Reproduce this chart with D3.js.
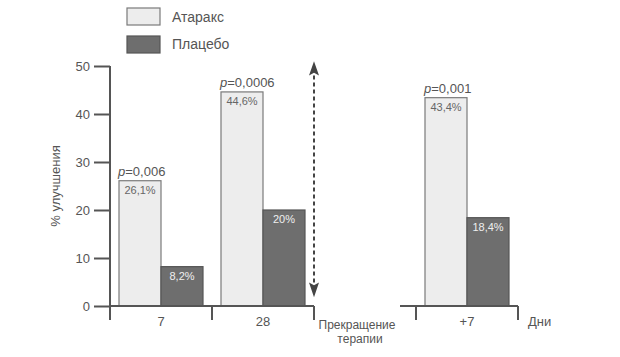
<!DOCTYPE html>
<html><head><meta charset="utf-8">
<script src="https://cdn.jsdelivr.net/npm/d3@7"></script>
<style>body{margin:0;background:#fff}svg{display:block}text{font-family:"Liberation Sans",Arial,sans-serif}</style>
</head><body><svg id="c" width="620" height="357"></svg>
<script>
const groups = ["7", "28", "stop", "+7"];
const groupLabels = ["7", "28", "", "+7"];
const series = ["Атаракс", "Плацебо"];
const ataraxValues = [26.1, 44.6, null, 43.4];
const placeboValues = [8.2, 20, null, 18.4];
const valueLabelsA = ["26,1%", "44,6%", "", "43,4%"];
const valueLabelsP = ["8,2%", "20%", "", "18,4%"];
const pValues = ["=0,006", "=0,0006", "", "=0,001"];
const yTicks = [0, 10, 20, 30, 40, 50];

const svg = d3.select("#c");
const y = d3.scaleLinear().domain([0, 50]).range([306, 66]);
const x = d3.scaleBand().domain(groups).range([110, 518]).padding(0);
const xi = d3.scaleBand().domain(series).range([9, x.bandwidth() - 9]).padding(0);
const fills = {"Атаракс": "#ededed", "Плацебо": "#6e6e6e"};
const strokes = {"Атаракс": "#7a7a7a", "Плацебо": "#555"};
const axisColor = "#555";

// Y axis
const yAxis = d3.axisLeft(y).tickValues(yTicks).tickSize(16).tickPadding(4);
const gy = svg.append("g").attr("transform", "translate(110,0)").call(yAxis);
gy.select(".domain").remove();
gy.selectAll(".tick line").attr("stroke", axisColor).attr("stroke-width", 2);
gy.selectAll(".tick text").attr("fill", "#555").style("font-size", "13px");
svg.append("line").attr("x1", 110).attr("x2", 110).attr("y1", y(50)).attr("y2", 320)
  .attr("stroke", axisColor).attr("stroke-width", 2);

svg.append("text").attr("transform", "translate(60,186) rotate(-90)")
  .attr("text-anchor", "middle").attr("fill", "#555").style("font-size", "13px").text("% улучшения");

// bars
const data = groups.map((g, i) => ({g, a: ataraxValues[i], p: placeboValues[i], la: valueLabelsA[i], lp: valueLabelsP[i], pv: pValues[i]}))
  .filter(d => d.a !== null);

data.forEach(d => {
  const g = svg.append("g").attr("transform", `translate(${x(d.g)},0)`);
  [["Атаракс", d.a, d.la], ["Плацебо", d.p, d.lp]].forEach(([s, v, lab]) => {
    g.append("rect").attr("x", xi(s)).attr("y", y(v)).attr("width", xi.bandwidth()).attr("height", y(0) - y(v))
      .attr("fill", fills[s]).attr("stroke", strokes[s]).attr("stroke-width", 1.2);
    g.append("text").attr("x", xi(s) + xi.bandwidth() / 2).attr("y", y(v) + 13)
      .attr("text-anchor", "middle").attr("fill", s === "Атаракс" ? "#666" : "#eee")
      .style("font-size", "11px").text(lab);
  });
  const t = g.append("text").attr("x", xi("Атаракс") - 1).attr("y", y(d.a) - 5)
    .attr("fill", "#555").style("font-size", "13px");
  t.append("tspan").style("font-style", "italic").text("p");
  t.append("tspan").text(d.pv);
});

// X axis segments
const seg1 = [x("7"), x("stop")];
const seg2 = [x("+7") - 16, x("+7") + x.bandwidth()];
[seg1, seg2].forEach(s => svg.append("line").attr("x1", s[0]).attr("x2", s[1]).attr("y1", 306).attr("y2", 306)
  .attr("stroke", axisColor).attr("stroke-width", 2));
[x("28"), x("stop"), x("+7"), x("+7") + x.bandwidth()].forEach(v =>
  svg.append("line").attr("x1", v).attr("x2", v).attr("y1", 306).attr("y2", 320).attr("stroke", axisColor).attr("stroke-width", 2));
groups.forEach((g, i) => {
  if (!groupLabels[i]) return;
  svg.append("text").attr("x", x(g) + x.bandwidth() / 2).attr("y", 326).attr("text-anchor", "middle")
    .attr("fill", "#555").style("font-size", "13px").text(groupLabels[i]);
});
svg.append("text").attr("x", 357).attr("y", 329).attr("text-anchor", "middle").attr("fill", "#555")
  .style("font-size", "12px").text("Прекращение");
svg.append("text").attr("x", 360).attr("y", 343).attr("text-anchor", "middle").attr("fill", "#555")
  .style("font-size", "12px").text("терапии");
svg.append("text").attr("x", 528).attr("y", 326).attr("fill", "#555").style("font-size", "13px").text("Дни");

// dashed double arrow
const ax = x("stop");
svg.append("line").attr("x1", ax).attr("x2", ax).attr("y1", y(48)).attr("y2", y(4.5))
  .attr("stroke", "#444").attr("stroke-width", 2).attr("stroke-dasharray", "4,3");
svg.append("path").attr("d", `M${ax},${y(51)} L${ax - 5},${y(48)} L${ax},${y(48.6)} L${ax + 5},${y(48)} Z`).attr("fill", "#444");
svg.append("path").attr("d", `M${ax},${y(1.8)} L${ax - 5},${y(4.9)} L${ax},${y(4.3)} L${ax + 5},${y(4.9)} Z`).attr("fill", "#444");

// legend
const leg = svg.append("g");
series.forEach((s, i) => {
  leg.append("rect").attr("x", 127).attr("y", 8 + i * 28).attr("width", 33).attr("height", 17)
    .attr("fill", fills[s]).attr("stroke", strokes[s]).attr("stroke-width", 1.2);
  leg.append("text").attr("x", 172).attr("y", 22 + i * 27).attr("fill", "#555").style("font-size", "14px").text(s);
});
</script></body></html>
